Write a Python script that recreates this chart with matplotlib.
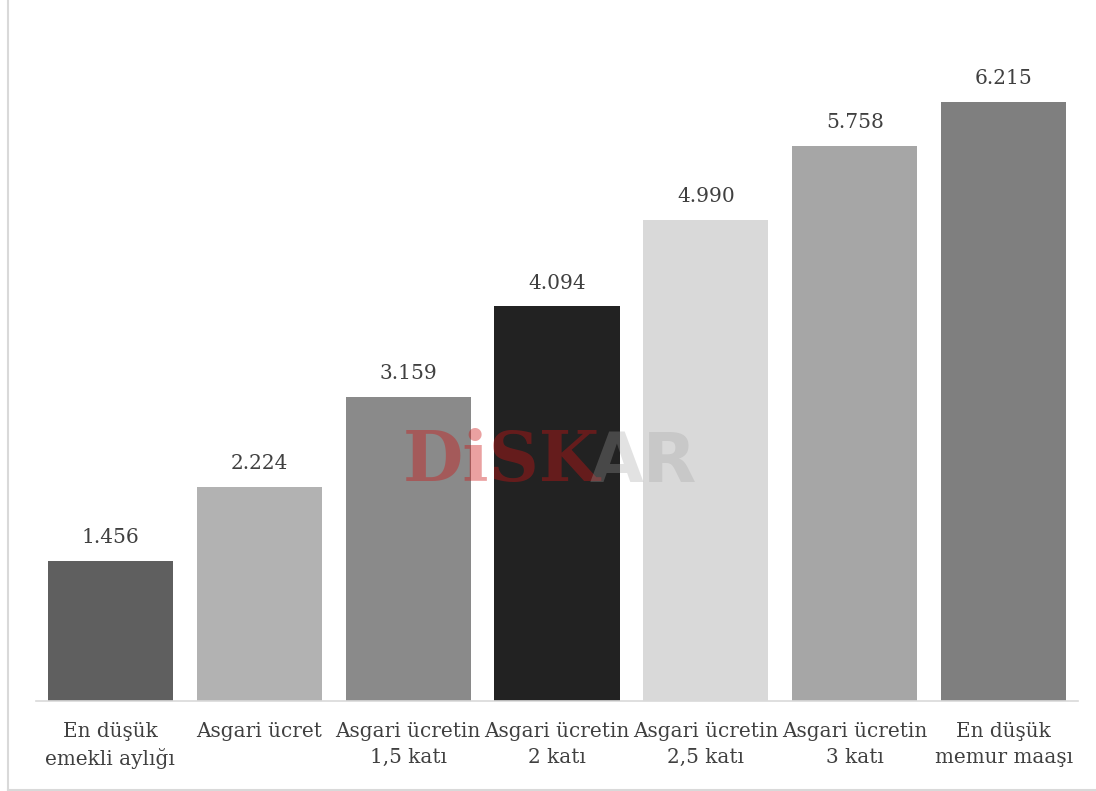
import matplotlib.pyplot as plt
from matplotlib.lines import Line2D

kategoriler = ["En düşük\nemekli aylığı", "Asgari ücret", "Asgari ücretin\n1,5 katı",
               "Asgari ücretin\n2 katı", "Asgari ücretin\n2,5 katı", "Asgari ücretin\n3 katı",
               "En düşük\nmemur maaşı"]
degerler = [1456, 2224, 3159, 4094, 4990, 5758, 6215]
renkler = ["#5f5f5f", "#b2b2b2", "#8a8a8a", "#222222", "#d9d9d9", "#a6a6a6", "#7f7f7f"]

plt.rcParams["font.family"] = ["DejaVu Serif"]
yazi_rengi = "#404040"

fig = plt.figure(figsize=(10.96, 7.91), dpi=100)
ax = fig.add_axes([36 / 1096, (791 - 701) / 791, (1078 - 36) / 1096, 701 / 791])

x = range(len(degerler))
bars = ax.bar(x, degerler, width=0.84, color=renkler, zorder=2)
ax.set_xlim(-0.5, len(degerler) - 0.5)
ax.set_ylim(0, 7273)

for b, v in zip(bars, degerler):
    etiket = f"{v:,}".replace(",", ".")
    ax.annotate(etiket, (b.get_x() + b.get_width() / 2, v), xytext=(0, 10),
                textcoords="offset points", ha="center", va="bottom",
                fontsize=14.5, color=yazi_rengi)

ax.set_xticks(list(x))
ax.set_xticklabels(kategoriler, fontsize=14.4, color=yazi_rengi, linespacing=1.45)
ax.tick_params(axis="x", length=0, pad=15)
ax.set_yticks([])
for s in ["top", "right", "left"]:
    ax.spines[s].set_visible(False)
ax.spines["bottom"].set_color("#d9d9d9")
ax.spines["bottom"].set_linewidth(1.2)
ax.spines["bottom"].set_zorder(3)

# filigran
fig.text(403 / 1096, 1 - 462 / 791, "DiSK", fontsize=50, fontweight="bold",
         family="DejaVu Serif", color=(0.8, 0.08, 0.08, 0.4), va="center", ha="left", zorder=5)
fig.text(590 / 1096, 1 - 462 / 791, "AR", fontsize=50, fontweight="bold",
         family="DejaVu Sans", color=(0.63, 0.63, 0.63, 0.3), va="center", ha="left", zorder=5)

# çerçeve
fig.add_artist(Line2D([7.5 / 1096, 7.5 / 1096], [1.5 / 791, 1], color="#d9d9d9", lw=1.5))
fig.add_artist(Line2D([7.5 / 1096, 1], [1.5 / 791, 1.5 / 791], color="#d9d9d9", lw=1.5))

fig.savefig("out.png", dpi=100)
